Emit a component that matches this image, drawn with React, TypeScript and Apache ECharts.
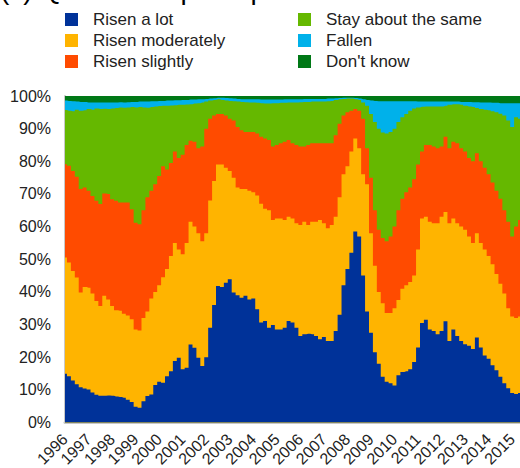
import React, { useEffect, useRef } from "react";
import * as echarts from "echarts";

// Bi-monthly observations, Jan 1996 .. May 2015 (117 points)
const startYear = 1996;
const nPoints = 117;
const categories: string[] = [];
for (let k = 0; k < nPoints; k++) {
  const m = 2 * k;
  categories.push(`${startYear + Math.floor(m / 12)}-${String((m % 12) + 1).padStart(2, "0")}`);
}

// Cumulative shares (percent): upper edge of each band
const topRisenALot = [
  14.9, 14.2, 12.9, 11.7, 10.8, 10.4, 10.1, 9.2, 8.5, 8.2, 8.2, 8.3, 8.2, 8.0, 7.8, 7.6, 7.0, 6.3, 4.8, 4.5,
  6.5, 8.1, 8.6, 11.5, 12.5, 12.2, 14.2, 15.7, 18.8, 19.8, 16.3, 16.8, 23.9, 22.9, 19.8, 17.3, 20, 29, 36,
  41.8, 41.5, 42.8, 43.9, 39.8, 39, 38.2, 38.8, 37.7, 38, 34.7, 30.6, 31.1, 29, 29.9, 28.5, 28.5, 29, 31.1,
  30.6, 29, 26.5, 27, 27.2, 27, 26.5, 25.5, 26.2, 25, 25, 28, 33, 42, 47, 52, 58.5, 57, 45,
  34, 27.5, 21.5, 18, 14, 12.5, 12, 11.3, 14.5, 15.5, 15.7, 16.3, 18.5, 23, 30.5, 31.5, 28.5, 28, 27, 28,
  31, 25, 28.5, 26.5, 25, 24, 23.5, 22.5, 26, 23, 20.5, 19.5, 17.5, 16, 14, 12, 10.5, 9, 8.7, 9,
];
const topRisenModerately = [
  50.5, 49.0, 46.4, 44.4, 39.8, 41.5, 41.3, 39.5, 37.2, 35.7, 38.8, 37.7, 35.7, 34.4, 34.2, 33.3, 32.8, 31.6, 28.5, 28.2,
  32, 34, 38, 40, 42, 44.5, 47, 51, 55, 53, 51.5, 55, 61.5, 60, 58, 55.5, 58, 68, 74,
  79, 79, 78, 77, 75, 72, 71.5, 71.5, 71, 70.5, 69.5, 67, 65.5, 65, 62, 62.5, 62.5, 62, 63,
  62.5, 61, 60.5, 61.5, 60.5, 61.5, 61.5, 62, 61, 59.5, 60.5, 63, 69, 76, 78.5, 83, 87, 84, 76,
  73, 58, 48, 40, 36.5, 33.5, 33.5, 35, 37.5, 41, 42, 43, 45, 53, 62.5, 63, 61.5, 61, 61, 63,
  64.5, 61, 62.5, 61, 60, 59, 57, 55, 58, 55, 53, 51, 48.5, 45.5, 42.5, 39.5, 35, 32.5, 32, 32.5,
];
const topRisenSlightly = [
  79.1, 78.6, 77, 75.3, 71.5, 72, 71, 69.4, 67.9, 66.9, 70.1, 70, 68.4, 67.9, 67.4, 67.4, 67.4, 65.3, 61.2, 60.7,
  65, 69, 71, 73, 75.5, 78.5, 77.5, 79.5, 83, 81, 82, 85, 86.3, 86, 84, 84.5, 90, 93, 94,
  94.5, 94.5, 94, 93, 92.5, 90.5, 89.5, 89, 89, 89, 88.5, 87.5, 87, 86.5, 84.5, 85, 85.5, 86, 86.5,
  85.5, 85, 84.5, 84.5, 85, 85.5, 85.5, 85.5, 85.5, 85.5, 85.5, 88, 91.5, 94, 95, 95.5, 96, 95.5, 93,
  84, 75, 65, 59, 56.5, 55.5, 57, 60, 65, 68.5, 70.5, 72, 74.5, 79, 83, 85, 85, 84.5, 84, 84.5,
  87.5, 84, 86, 85.5, 84, 83, 81, 80, 82.5, 80, 78, 76, 73.5, 71, 68.5, 65, 61.5, 57, 60, 62,
];
const topStaySame = [
  95.7, 95.5, 95.3, 95.8, 95.5, 95.6, 96, 95.8, 96.2, 96, 96.1, 96, 96.2, 96.3, 96.5, 96.4, 96.5, 96.6, 96.5, 96.6,
  96.5, 96.4, 96.6, 96.8, 96.9, 97, 97, 97.1, 97.2, 97.3, 97.3, 97.4, 97.5, 97.7, 97.8, 98, 98.3, 98.6, 98.8,
  99, 98.8, 98.6, 98.5, 98.4, 98.3, 98.2, 98.1, 98, 98, 97.9, 97.8, 97.7, 97.7, 97.8, 97.8, 97.9, 97.9, 98,
  98, 98, 98.1, 98.2, 98.2, 98.3, 98.3, 98.3, 98.3, 98.4, 98.5, 98.8, 99, 99.1, 99.2, 99.2, 99, 98.8, 98,
  97, 94.5, 92, 90, 88.8, 88.5, 89, 90, 92, 93.5, 94.5, 95.5, 96.2, 96.5, 96.7, 96.8, 96.8, 96.8, 96.8, 96.8,
  97, 97.3, 97.5, 97.5, 97.3, 97, 96.8, 96.6, 96.3, 96, 95.8, 95.6, 95.3, 95, 94.6, 94, 92.5, 90.5, 93.5, 93,
];
const topFallen = [
  98.6, 98.5, 98.4, 98.3, 98.2, 98.2, 98, 98, 98, 98, 98, 98, 98, 98, 98.1, 98, 98.1, 98.2, 98.2, 98.3,
  98.3, 98.3, 98.4, 98.4, 98.5, 98.5, 98.6, 98.6, 98.7, 98.7, 98.8, 98.8, 98.9, 98.9, 99, 99, 99.1, 99.2, 99.3,
  99.5, 99.5, 99.4, 99.3, 99.2, 99.1, 99, 99, 99, 99, 99, 98.9, 98.9, 98.9, 98.9, 98.9, 98.9, 99, 99,
  99, 99, 99, 99.1, 99.1, 99.1, 99.1, 99.1, 99.1, 99.2, 99.2, 99.3, 99.4, 99.5, 99.5, 99.5, 99.4, 99.2, 99,
  98.8, 98.6, 98.5, 98.4, 98.4, 98.4, 98.4, 98.4, 98.4, 98.4, 98.4, 98.4, 98.4, 98.3, 98.3, 98.3, 98.3, 98.3, 98.3, 98.3,
  98.3, 98.3, 98.3, 98.3, 98.2, 98.2, 98.2, 98.1, 98.1, 98, 98, 98, 97.9, 97.9, 97.8, 97.8, 97.8, 97.8, 97.8, 97.8,
];
const topDontKnow = categories.map(() => 100);

const seriesNames = [
  "Risen a lot",
  "Risen moderately",
  "Risen slightly",
  "Stay about the same",
  "Fallen",
  "Don't know",
];
const seriesColors = ["#003299", "#FFB400", "#FF4B00", "#65B800", "#00B1EA", "#007816"];
const seriesTops = [topRisenALot, topRisenModerately, topRisenSlightly, topStaySame, topFallen, topDontKnow];

const FONT = "'Liberation Sans', Arial, sans-serif";

export default function App() {
  const ref = useRef<HTMLDivElement>(null);
  useEffect(() => {
    document.body.style.margin = "0";
    if (!ref.current) return;
    const chart = echarts.init(ref.current, null, { renderer: "svg" });
    // draw highest band first so lower bands overlay it
    const series = seriesNames
      .map((name, i) => ({
        name,
        type: "line",
        step: "middle",
        data: seriesTops[i],
        symbol: "none",
        color: seriesColors[i],
        lineStyle: { width: 0 },
        areaStyle: { color: seriesColors[i], opacity: 1 },
        z: 10 - i,
      }))
      .reverse();
    const legendCommon = {
      orient: "vertical",
      icon: "rect",
      itemWidth: 13,
      itemHeight: 13,
      itemGap: 4,
      textStyle: { fontSize: 17, color: "#222", fontFamily: FONT, padding: [0, 0, 0, 10] },
      selectedMode: false,
    };
    chart.setOption({
      animation: false,
      textStyle: { fontFamily: FONT },
      graphic: [
        {
          type: "text",
          x: 0,
          y: -11,
          style: {
            text: "(c) Qualitative perceptions",
            font: `28px ${FONT}`,
            fill: "#000",
            verticalAlign: "middle",
            textVerticalAlign: "middle",
          },
        },
      ],
      legend: [
        { ...legendCommon, left: 60, top: 6, data: seriesNames.slice(0, 3) },
        { ...legendCommon, left: 293, top: 6, data: seriesNames.slice(3) },
      ],
      grid: { left: 65, right: 0, top: 96, bottom: 45.5, outerBoundsMode: "none", containLabel: false },
      xAxis: {
        type: "category",
        data: categories,
        boundaryGap: false,
        axisLine: { lineStyle: { color: "#C8C8C8", width: 3 } },
        axisTick: { show: false },
        axisLabel: {
          interval: (index: number) => index % 6 === 0,
          formatter: (v: string) => v.slice(0, 4),
          rotate: 45,
          fontSize: 16,
          color: "#222",
          margin: 14,
        },
        splitLine: { show: false },
      },
      yAxis: {
        type: "value",
        min: 0,
        max: 100,
        interval: 10,
        axisLine: { show: true, lineStyle: { color: "#C8C8C8", width: 2 } },
        axisTick: { show: false },
        axisLabel: { formatter: "{value}%", fontSize: 16, color: "#222", margin: 14 },
        splitLine: { show: false },
      },
      series,
    });
    return () => chart.dispose();
  }, []);
  return <div ref={ref} style={{ width: 520, height: 468 }} />;
}
